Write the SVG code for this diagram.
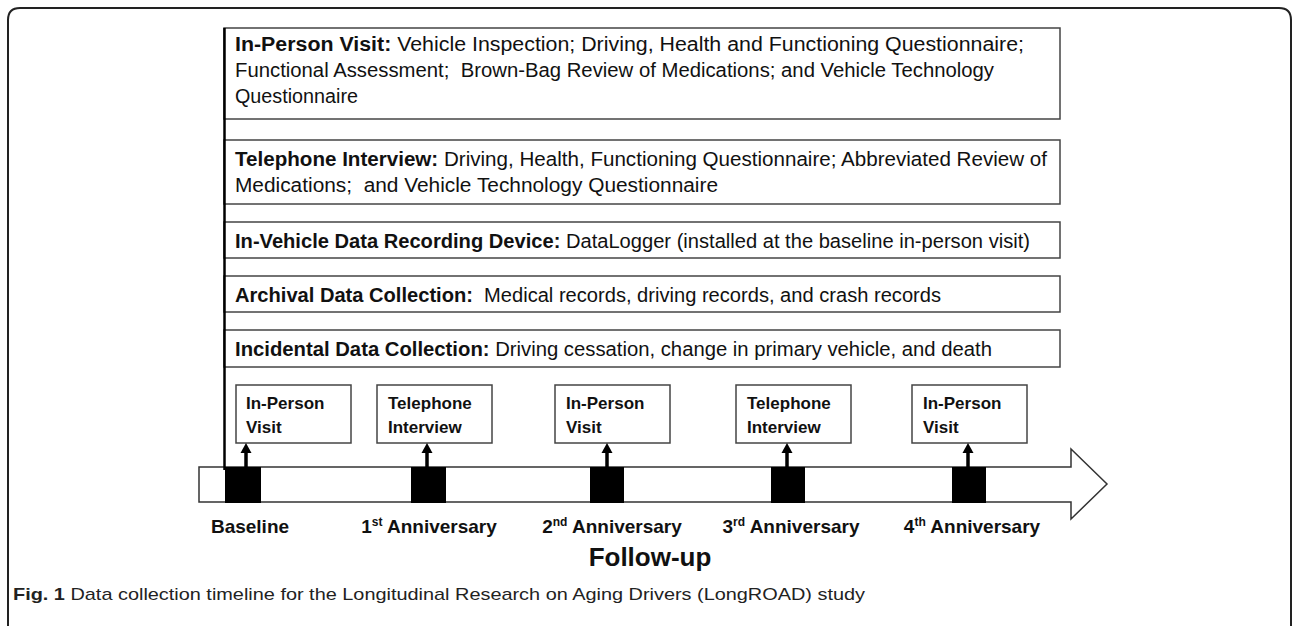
<svg xmlns="http://www.w3.org/2000/svg" width="1292" height="626" viewBox="0 0 1292 626">
<style>
.frame{fill:none;stroke:#222;stroke-width:2}
.box{fill:#fff;stroke:#444;stroke-width:1.5}
.t{font-family:"Liberation Sans",Arial,sans-serif;font-size:20px;fill:#111}
.b{font-weight:bold}
.sb{font-family:"Liberation Sans",Arial,sans-serif;font-size:17px;font-weight:bold;fill:#111}
.lab{font-family:"Liberation Sans",Arial,sans-serif;font-size:19px;font-weight:bold;fill:#111;text-anchor:middle}
.sup{font-size:12px}
.sq{fill:#000}
.shaft{stroke:#000;stroke-width:3.5}
.head{fill:#000}
</style>
<rect width="1292" height="626" fill="#fff"/>
<path class="frame" d="M8,640 L8,20 Q8,8 20,8 L1279,8 Q1291,8 1291,20 L1291,640"/>

<g id="box-inperson">
<rect class="box" x="224" y="28" width="836" height="91"/>
<text class="t" x="235" y="51" textLength="789" lengthAdjust="spacingAndGlyphs"><tspan class="b">In-Person Visit:</tspan> Vehicle Inspection; Driving, Health and Functioning Questionnaire;</text>
<text class="t" x="235" y="77" textLength="759" lengthAdjust="spacingAndGlyphs" xml:space="preserve">Functional Assessment;  Brown-Bag Review of Medications; and Vehicle Technology</text>
<text class="t" x="235" y="103" textLength="123" lengthAdjust="spacingAndGlyphs">Questionnaire</text>
</g>
<g id="box-telephone">
<rect class="box" x="224" y="140" width="836" height="64"/>
<text class="t" x="235" y="166" textLength="812" lengthAdjust="spacingAndGlyphs"><tspan class="b">Telephone Interview:</tspan> Driving, Health, Functioning Questionnaire; Abbreviated Review of</text>
<text class="t" x="235" y="192" textLength="483" lengthAdjust="spacingAndGlyphs" xml:space="preserve">Medications;  and Vehicle Technology Questionnaire</text>
</g>
<g id="box-invehicle">
<rect class="box" x="224" y="222" width="836" height="36"/>
<text class="t" x="235" y="248" textLength="795" lengthAdjust="spacingAndGlyphs"><tspan class="b">In-Vehicle Data Recording Device:</tspan> DataLogger (installed at the baseline in-person visit)</text>
</g>
<g id="box-archival">
<rect class="box" x="224" y="276" width="836" height="36"/>
<text class="t" x="235" y="302" textLength="706" lengthAdjust="spacingAndGlyphs" xml:space="preserve"><tspan class="b">Archival Data Collection:</tspan>  Medical records, driving records, and crash records</text>
</g>
<g id="box-incidental">
<rect class="box" x="224" y="330" width="836" height="37"/>
<text class="t" x="235" y="356" textLength="757" lengthAdjust="spacingAndGlyphs"><tspan class="b">Incidental Data Collection:</tspan> Driving cessation, change in primary vehicle, and death</text>
</g>

<g id="timeline">
<path d="M199,467 L1071,467 L1071,449 L1107,484 L1071,519 L1071,502 L199,502 Z" fill="#fff" stroke="#333" stroke-width="1.5"/>
</g>

<g id="visit-0">
<rect class="box" x="236" y="385" width="115" height="58"/>
<text class="sb" x="246" y="409">In-Person</text>
<text class="sb" x="246" y="433">Visit</text>
<rect class="sq" x="225" y="467" width="36" height="36"/>
<text class="lab" x="250" y="533">Baseline</text>
</g>
<g id="visit-1">
<rect class="box" x="377" y="385" width="115" height="58"/>
<text class="sb" x="388" y="409">Telephone</text>
<text class="sb" x="388" y="433">Interview</text>
<rect class="sq" x="411" y="467" width="35" height="36"/>
<text class="lab" x="429" y="533">1<tspan class="sup" dy="-7">st</tspan><tspan dy="7"> Anniversary</tspan></text>
</g>
<g id="visit-2">
<rect class="box" x="555" y="385" width="115" height="58"/>
<text class="sb" x="566" y="409">In-Person</text>
<text class="sb" x="566" y="433">Visit</text>
<rect class="sq" x="590" y="467" width="34" height="36"/>
<text class="lab" x="612" y="533">2<tspan class="sup" dy="-7">nd</tspan><tspan dy="7"> Anniversary</tspan></text>
</g>
<g id="visit-3">
<rect class="box" x="736" y="385" width="115" height="58"/>
<text class="sb" x="747" y="409">Telephone</text>
<text class="sb" x="747" y="433">Interview</text>
<rect class="sq" x="771" y="467" width="34" height="36"/>
<text class="lab" x="791" y="533">3<tspan class="sup" dy="-7">rd</tspan><tspan dy="7"> Anniversary</tspan></text>
</g>
<g id="visit-4">
<rect class="box" x="912" y="385" width="115" height="58"/>
<text class="sb" x="923" y="409">In-Person</text>
<text class="sb" x="923" y="433">Visit</text>
<rect class="sq" x="952" y="467" width="34" height="36"/>
<text class="lab" x="972" y="533">4<tspan class="sup" dy="-7">th</tspan><tspan dy="7"> Anniversary</tspan></text>
</g>

<g id="connectors">
<line x1="224.5" y1="28" x2="224.5" y2="470" stroke="#000" stroke-width="2.5"/>
<line class="shaft" x1="246" y1="467" x2="246" y2="452"/>
<path class="head" d="M240.5,453 L251.5,453 L246,443 Z"/>
<line class="shaft" x1="427" y1="467" x2="427" y2="452"/>
<path class="head" d="M421.5,453 L432.5,453 L427,443 Z"/>
<line class="shaft" x1="607" y1="467" x2="607" y2="452"/>
<path class="head" d="M601.5,453 L612.5,453 L607,443 Z"/>
<line class="shaft" x1="787" y1="467" x2="787" y2="452"/>
<path class="head" d="M781.5,453 L792.5,453 L787,443 Z"/>
<line class="shaft" x1="968" y1="467" x2="968" y2="452"/>
<path class="head" d="M962.5,453 L973.5,453 L968,443 Z"/>
</g>

<text x="650" y="566" text-anchor="middle" font-family="Liberation Sans, Arial, sans-serif" font-size="26" font-weight="bold" fill="#111">Follow-up</text>
<text x="13" y="600" font-family="Liberation Sans, Arial, sans-serif" font-size="17" fill="#222" textLength="852" lengthAdjust="spacingAndGlyphs"><tspan font-weight="bold">Fig. 1</tspan> Data collection timeline for the Longitudinal Research on Aging Drivers (LongROAD) study</text>
</svg>
